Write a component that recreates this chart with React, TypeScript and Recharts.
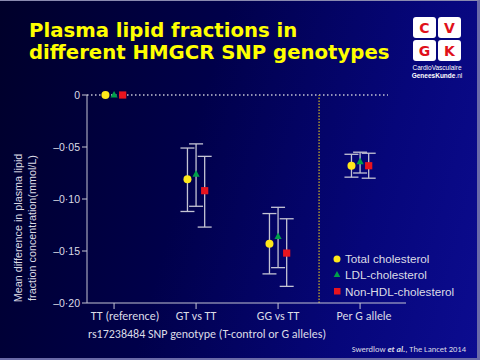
import React from "react";
import {
  ComposedChart,
  ErrorBar,
  ReferenceLine,
  Scatter,
  XAxis,
  YAxis,
} from "recharts";

const categories = ["TT (reference)", "GT vs TT", "GG vs TT", "Per G allele"];
const seriesNames = ["Total cholesterol", "LDL-cholesterol", "Non-HDL-cholesterol"];

// mean difference and 95% CI (mmol/L), TT is the reference group
const totalMean = [0, -0.081, -0.143, -0.068];
const totalLow = [null, -0.112, -0.172, -0.079];
const totalHigh = [null, -0.051, -0.114, -0.057];

const ldlMean = [0, -0.076, -0.136, -0.064];
const ldlLow = [null, -0.107, -0.166, -0.075];
const ldlHigh = [null, -0.047, -0.108, -0.055];

const nonHdlMean = [0, -0.092, -0.152, -0.068];
const nonHdlLow = [null, -0.127, -0.184, -0.08];
const nonHdlHigh = [null, -0.059, -0.119, -0.056];

const yTicks = [0, -0.05, -0.1, -0.15, -0.2];

const colors = { total: "#ffe81a", ldl: "#00a04a", nonHdl: "#e8141e" };
const axisColor = "#c4c4d4";
const textColor = "#dcdce6";
const dodge = [-0.105, 0, 0.105];
// the slide's category labels are not quite centred under their ticks
const labelShift = [11, 0, 0, 4];

function buildSeries(mean: number[], low: (number | null)[], high: (number | null)[], idx: number) {
  return mean.map((v, i) => ({
    x: i + 1 + dodge[idx],
    y: v,
    err: low[i] == null ? undefined : [v - (low[i] as number), (high[i] as number) - v],
  }));
}

const totalData = buildSeries(totalMean, totalLow, totalHigh, 0);
const ldlData = buildSeries(ldlMean, ldlLow, ldlHigh, 1);
const nonHdlData = buildSeries(nonHdlMean, nonHdlLow, nonHdlHigh, 2);

const fmtY = (v: number) => (v === 0 ? "0" : "\u2013" + Math.abs(v).toFixed(2).replace(".", "\u00b7"));

const CircleDot = (p: any) => <circle cx={p.cx} cy={p.cy} r={4} fill={colors.total} />;
const TriangleDot = (p: any) => (
  <path d={`M${p.cx},${p.cy - 4}L${p.cx + 3.6},${p.cy + 2.6}L${p.cx - 3.6},${p.cy + 2.6}Z`} fill={colors.ldl} />
);
const SquareDot = (p: any) => (
  <rect x={p.cx - 3.6} y={p.cy - 3.6} width={7.2} height={7.2} fill={colors.nonHdl} />
);

const calibri = "Carlito, Lato, 'Open Sans', sans-serif";
const arial = "'Liberation Sans', Arial, sans-serif";

const CategoryTick = (p: any) => {
  const i = Math.round(p.payload.value) - 1;
  return (
    <text
      x={p.x + labelShift[i]}
      y={p.y}
      dy="0.71em"
      textAnchor="middle"
      fill={textColor}
      fontSize={12}
      fontFamily={calibri}
    >
      {categories[i]}
    </text>
  );
};

export default function App() {
  return (
    <div
      style={{
        position: "absolute",
        left: 0,
        top: 0,
        width: 480,
        height: 360,
        overflow: "hidden",
        background: "linear-gradient(105deg, #00002a 0%, #00004a 40%, #06067a 75%, #0c0c90 100%)",
        boxSizing: "border-box",
        borderTop: "1px solid #8a8ab0",
        borderRight: "3px solid #6a6aa8",
        borderBottom: "2px solid #6a6aa8",
      }}
    >
      <div style={{ position: "absolute", left: 0, top: 0 }}>
        <ComposedChart width={480} height={360} margin={{ top: 94, right: 74, bottom: 28, left: 47 }}>
          <XAxis
            type="number"
            dataKey="x"
            domain={[0.67, 4.56]}
            allowDataOverflow
            ticks={[1, 2, 3, 4]}
            stroke={axisColor}
            tickSize={6}
            height={30}
            tick={CategoryTick}
          />
          <YAxis
            type="number"
            dataKey="y"
            domain={[-0.2, 0]}
            ticks={yTicks}
            tickFormatter={fmtY}
            stroke={axisColor}
            tickSize={5}
            width={40}
            tick={{ fill: textColor, fontSize: 10.5, fontFamily: arial }}
          />
          <ReferenceLine
            segment={[{ x: 0.67, y: 0 }, { x: 4.34, y: 0 }]}
            stroke={axisColor}
            strokeDasharray="1.5 2.5"
            strokeWidth={1.3}
          />
          <ReferenceLine x={3.5} stroke="#c0a828" strokeDasharray="1.5 1.5" strokeWidth={1.3} />
          <Scatter data={totalData} shape={CircleDot} isAnimationActive={false}>
            <ErrorBar dataKey="err" direction="y" width={7} stroke={axisColor} strokeWidth={1.3} />
          </Scatter>
          <Scatter data={ldlData} shape={TriangleDot} isAnimationActive={false}>
            <ErrorBar dataKey="err" direction="y" width={7} stroke={axisColor} strokeWidth={1.3} />
          </Scatter>
          <Scatter data={nonHdlData} shape={SquareDot} isAnimationActive={false}>
            <ErrorBar dataKey="err" direction="y" width={7} stroke={axisColor} strokeWidth={1.3} />
          </Scatter>
        </ComposedChart>
      </div>

      <svg width={480} height={360} style={{ position: "absolute", left: 0, top: 0, pointerEvents: "none" }}>
        <g fontFamily="'DejaVu Sans', Verdana, sans-serif" fontWeight="bold" fontSize={19.7} fill="#ffff00">
          <text x={29} y={36}>Plasma lipid fractions in</text>
          <text x={29} y={58}>different HMGCR SNP genotypes</text>
        </g>

        {/* logo */}
        <g>
          <rect x={413} y={16} width={23} height={21} rx={3} fill="#ffffff" />
          <rect x={438} y={16} width={23} height={21} rx={3} fill="#ffffff" />
          <rect x={413} y={39} width={23} height={21} rx={3} fill="#ffffff" />
          <rect x={438} y={39} width={23} height={21} rx={3} fill="#ffffff" />
          <g fontFamily="'DejaVu Sans', sans-serif" fontWeight="bold" fontSize={14} fill="#e0101a" textAnchor="middle">
            <text x={424.5} y={32}>C</text>
            <text x={449.5} y={32}>V</text>
            <text x={424.5} y={55}>G</text>
            <text x={449.5} y={55}>K</text>
          </g>
          <g fontFamily={arial} fontSize={6.5} fill="#ffffff" textAnchor="middle">
            <text x={437} y={69}>CardioVasculaire</text>
            <text x={437} y={77} fontWeight="bold">
              GeneesKunde<tspan fontWeight="normal">.nl</tspan>
            </text>
          </g>
        </g>

        {/* y axis title */}
        <g fontFamily={arial} fontSize={10.8} fill={textColor} textAnchor="middle">
          <text transform="translate(22,227) rotate(-90)">Mean difference in plasma lipid</text>
          <text transform="translate(36,227) rotate(-90)">fraction concentration(mmol/L)</text>
        </g>

        {/* x axis title */}
        <text x={207} y={337} fontFamily={calibri} fontSize={12} fill={textColor} textAnchor="middle">
          rs17238484 SNP genotype (T-control or G alleles)
        </text>

        {/* legend */}
        <g fontFamily={arial} fontSize={11.7} fill={textColor}>
          <circle cx={337} cy={258} r={3.5} fill={colors.total} />
          <text x={345} y={262}>{seriesNames[0]}</text>
          <path d="M337,270L340.3,276L333.7,276Z" fill={colors.ldl} />
          <text x={345} y={278}>{seriesNames[1]}</text>
          <rect x={334} y={287} width={6.5} height={6.5} fill={colors.nonHdl} />
          <text x={345} y={294.5}>{seriesNames[2]}</text>
        </g>

        {/* source */}
        <text x={466} y={351} fontFamily={calibri} fontSize={8.5} fill={textColor} textAnchor="end">
          Swerdlow <tspan fontWeight="bold" fontStyle="italic">et al.</tspan>, The Lancet 2014
        </text>
      </svg>
    </div>
  );
}
